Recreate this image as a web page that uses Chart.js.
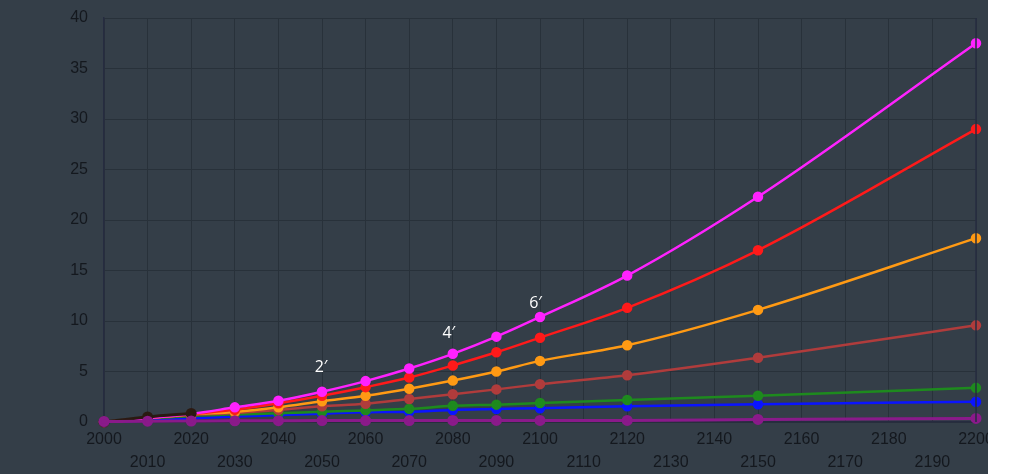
<!DOCTYPE html>
<html>
<head>
<meta charset="utf-8">
<script src="https://cdn.jsdelivr.net/npm/chart.js@4/dist/chart.umd.min.js"></script>
<style>
  html, body { margin: 0; padding: 0; background: #ffffff; }
  #wrap { position: absolute; left: 0; top: 0; width: 1015px; height: 474px; }
</style>
</head>
<body>
<div id="wrap"><canvas id="c" width="1015" height="474"></canvas></div>
<script>
// ---- data ----
const years = [2000, 2010, 2020, 2030, 2040, 2050, 2060, 2070, 2080, 2090, 2100, 2120, 2150, 2200];
const magentaSeries = [0, 0.4, 0.8, 1.45, 2.1, 3.0, 4.05, 5.3, 6.75, 8.45, 10.4, 14.5, 22.3, 37.5];
const redSeries     = [0, 0.4, 0.8, 1.2, 1.85, 2.6, 3.45, 4.4, 5.6, 6.9, 8.35, 11.3, 17.0, 29.0];
const orangeSeries  = [0, 0.4, 0.75, 1.0, 1.45, 2.05, 2.6, 3.3, 4.1, 5.0, 6.05, 7.6, 11.1, 18.2];
const brownSeries   = [0, 0.4, 0.7, 0.9, 1.2, 1.55, 1.8, 2.28, 2.74, 3.23, 3.75, 4.63, 6.37, 9.57];
const greenSeries   = [0, 0.35, 0.6, 0.75, 0.86, 1.02, 1.15, 1.3, 1.6, 1.72, 1.88, 2.18, 2.6, 3.38];
const blueSeries    = [0, 0.15, 0.35, 0.55, 0.69, 0.82, 0.97, 1.0, 1.19, 1.28, 1.37, 1.55, 1.75, 2.01];
const purpleSeries  = [0.05, 0.08, 0.1, 0.12, 0.13, 0.14, 0.14, 0.14, 0.15, 0.15, 0.15, 0.16, 0.25, 0.35];
const observedYears = [2000, 2010, 2020];
const observedSeries = [0, 0.5, 0.85];
const xTickValues = [2000, 2010, 2020, 2030, 2040, 2050, 2060, 2070, 2080, 2090, 2100, 2110, 2120, 2130, 2140, 2150, 2160, 2170, 2180, 2190, 2200];
const yTickValues = [0, 5, 10, 15, 20, 25, 30, 35, 40];
const noteText = ['2\u2032', '4\u2032', '6\u2032'];
const noteYear = [2049.8, 2079.1, 2099];
const noteValue = [5.4, 8.8, 11.75];

// ---- build ----
function pts(xs, ys) { return xs.map((x, i) => ({ x: x, y: ys[i] })); }
function ds(label, xs, ys, color, extra) {
  return Object.assign({
    label: label,
    data: pts(xs, ys),
    borderColor: color,
    backgroundColor: color,
    pointBackgroundColor: color,
    pointBorderColor: color,
    borderWidth: 2.5,
    pointRadius: 4,
    pointHoverRadius: 4,
    cubicInterpolationMode: 'monotone',
    fill: false,
    clip: 6
  }, extra || {});
}

const bgPlugin = {
  id: 'bg',
  beforeDraw(chart) {
    const ctx = chart.ctx;
    ctx.save();
    ctx.fillStyle = '#343e48';
    ctx.fillRect(0, 0, chart.width, chart.height);
    ctx.restore();
  },
  afterDraw(chart) {
    const ctx = chart.ctx;
    const xs = chart.scales.x, ys = chart.scales.y;
    ctx.save();
    ctx.strokeStyle = '#262c40';
    ctx.lineWidth = 1.5;
    ctx.beginPath();
    ctx.moveTo(chart.chartArea.right, chart.chartArea.top);
    ctx.lineTo(chart.chartArea.right, chart.chartArea.bottom);
    ctx.stroke();
    ctx.fillStyle = '#ffffff';
    ctx.font = '16px "Open Sans", "DejaVu Sans", sans-serif';
    ctx.textAlign = 'center';
    ctx.textBaseline = 'middle';
    noteText.forEach((t, i) => {
      ctx.fillText(t, xs.getPixelForValue(noteYear[i]), ys.getPixelForValue(noteValue[i]));
    });
    ctx.fillStyle = '#ffffff';
    ctx.fillRect(988, 0, chart.width - 988, chart.height);
    ctx.restore();
  }
};

// Chart.js paints dataset 0 last (on top)
new Chart(document.getElementById('c'), {
  type: 'line',
  data: {
    datasets: [
      ds('purple', years, purpleSeries, '#8a1a8a', { borderWidth: 3 }),
      ds('observed', observedYears, observedSeries, '#2a1a12', { borderWidth: 3 }),
      ds('magenta', years, magentaSeries, '#ff22ff'),
      ds('red', years, redSeries, '#ff1a1a'),
      ds('orange', years, orangeSeries, '#ff9a14'),
      ds('brown', years, brownSeries, '#b03c3c'),
      ds('green', years, greenSeries, '#1e8a1e'),
      ds('blue', years, blueSeries, '#0a14ff')
    ]
  },
  options: {
    responsive: false,
    animation: false,
    events: [],
    layout: { padding: { top: 18, right: 39, bottom: 0, left: 0 } },
    plugins: { legend: { display: false }, tooltip: { enabled: false } },
    scales: {
      x: {
        type: 'linear',
        min: 2000,
        max: 2200,
        afterBuildTicks(scale) { scale.ticks = xTickValues.map(v => ({ value: v })); },
        afterFit(scale) { scale.height = 52; scale.paddingLeft = 0; scale.paddingRight = 0; },
        ticks: {
          autoSkip: false,
          maxRotation: 0,
          minRotation: 0,
          padding: 6,
          color: '#14181e',
          font: { family: '"Liberation Sans", Arial, sans-serif', size: 16, lineHeight: 1.45 },
          callback(v) {
            const idx = xTickValues.indexOf(v);
            return idx % 2 === 1 ? ['', String(v)] : String(v);
          }
        },
        grid: { color: '#28313a', lineWidth: 1, drawTicks: false },
        border: { color: '#262c40', width: 1.5 }
      },
      y: {
        min: 0,
        max: 40,
        afterBuildTicks(scale) { scale.ticks = yTickValues.map(v => ({ value: v })); },
        afterFit(scale) { scale.width = 104; scale.paddingTop = 0; scale.paddingBottom = 0; },
        ticks: {
          padding: 16,
          color: '#14181e',
          font: { family: '"Liberation Sans", Arial, sans-serif', size: 16 }
        },
        grid: { color: '#28313a', lineWidth: 1, drawTicks: false },
        border: { color: '#262c40', width: 1.5 }
      }
    }
  },
  plugins: [bgPlugin]
});
</script>
</body>
</html>
